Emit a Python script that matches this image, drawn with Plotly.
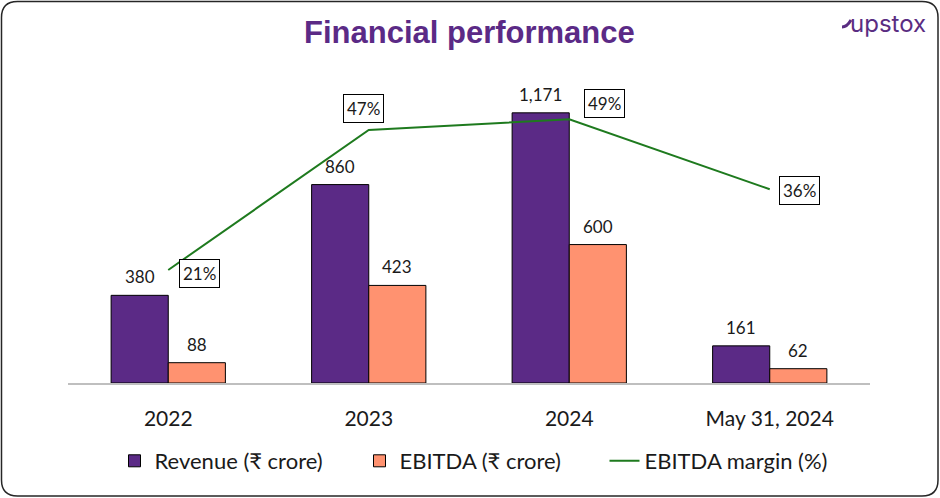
import plotly.graph_objects as go

categories = ["2022", "2023", "2024", "May 31, 2024"]
revenue = [380, 860, 1171, 161]
ebitda = [88, 423, 600, 62]
margin = [21, 47, 49, 36]

# label offsets (pixels) for margin boxes
margin_offsets = [(31, -4), (-5, 21), (35, 16), (30, -1)]

PURPLE = "#5B2A86"
SALMON = "#FF9270"
GREEN = "#1E7A1E"
TXT = "#1a1a1a"
FONT = "Lato, 'Noto Sans', sans-serif"

W, H = 940, 498
L, R, T, B = 68, 70, 60, 115
PW, PH = W - L - R, H - T - B


def px(xp):
    return (xp - L) / PW


def py(yp):
    return (T + PH - yp) / PH


fig = go.Figure()
fig.add_trace(go.Bar(x=categories, y=revenue, name="Revenue (₹ crore)",
                     marker=dict(color=PURPLE, line=dict(color="#000000", width=1)),
                     yaxis="y"))
fig.add_trace(go.Bar(x=categories, y=ebitda, name="EBITDA (₹ crore)",
                     marker=dict(color=SALMON, line=dict(color="#000000", width=1)),
                     yaxis="y"))
fig.add_trace(go.Scatter(x=categories, y=margin, name="EBITDA margin (%)", mode="lines",
                         line=dict(color=GREEN, width=2), yaxis="y2"))

annotations = []
half = PW / len(categories) * (1 - 0.43) / 2 / 2
for i, c in enumerate(categories):
    annotations.append(dict(x=i, y=revenue[i], xref="x", yref="y", text=f"{revenue[i]:,}",
                            showarrow=False, xshift=-half, yshift=6, yanchor="bottom", xanchor="center",
                            font=dict(size=17, color=TXT, family=FONT)))
    annotations.append(dict(x=i, y=ebitda[i], xref="x", yref="y", text=f"{ebitda[i]:,}",
                            showarrow=False, xshift=half, yshift=6, yanchor="bottom", xanchor="center",
                            font=dict(size=17, color=TXT, family=FONT)))
    dx, dy = margin_offsets[i]
    annotations.append(dict(x=i, y=margin[i], xref="x", yref="y2", text=f"{margin[i]}%",
                            showarrow=False, xshift=dx, yshift=dy, xanchor="center", yanchor="middle",
                            bordercolor="#000000", borderwidth=1, borderpad=3, bgcolor="white",
                            font=dict(size=17, color=TXT, family=FONT)))

annotations.append(dict(x=px(469), y=py(33), xref="paper", yref="paper",
                        xanchor="center", yanchor="middle",
                        text="<b>Financial performance</b>", showarrow=False,
                        font=dict(size=31, color=PURPLE, family="'Liberation Sans', Arial, sans-serif")))
annotations.append(dict(x=px(928), y=py(23), xref="paper", yref="paper", xanchor="right", yanchor="middle",
                        text="upstox", showarrow=False,
                        font=dict(size=24, color="#5A2D82", family="Inter, 'Noto Sans', sans-serif")))


def rrect(x0, y0, x1, y1, r):
    pts = [
        ("M", px(x0 + r), py(y0)),
        ("L", px(x1 - r), py(y0)),
        ("Q", px(x1), py(y0), px(x1), py(y0 + r)),
        ("L", px(x1), py(y1 - r)),
        ("Q", px(x1), py(y1), px(x1 - r), py(y1)),
        ("L", px(x0 + r), py(y1)),
        ("Q", px(x0), py(y1), px(x0), py(y1 - r)),
        ("L", px(x0), py(y0 + r)),
        ("Q", px(x0), py(y0), px(x0 + r), py(y0)),
    ]
    s = ""
    for p in pts:
        cmd = p[0]
        coords = p[1:]
        s += cmd + " " + " ".join(f"{coords[k]:.5f},{coords[k+1]:.5f}" for k in range(0, len(coords), 2)) + " "
    return s + "Z"


shapes = [
    dict(type="path", xref="paper", yref="paper", path=rrect(1.5, 1.5, 938, 496, 16),
         line=dict(color="#262626", width=1.5)),
    dict(type="path", xref="paper", yref="paper",
         path=f"M {px(842):.5f},{py(27):.5f} Q {px(847):.5f},{py(27):.5f} {px(851):.5f},{py(20):.5f}",
         line=dict(color="#5A2D82", width=3)),
]

fig.update_layout(
    width=W, height=H,
    margin=dict(l=L, r=R, t=T, b=B),
    paper_bgcolor="white", plot_bgcolor="white",
    barmode="group", bargap=0.43, bargroupgap=0,
    showlegend=True,
    legend=dict(orientation="h", x=px(482), xanchor="center", y=py(461), yanchor="middle",
                font=dict(size=22, color=TXT, family=FONT), itemwidth=30,
                entrywidth=200, entrywidthmode="pixels",
                traceorder="normal"),
    xaxis=dict(type="category", range=[-0.5, len(categories) - 0.5], showline=True,
               linecolor="#bfbfbf", linewidth=1.5, showgrid=False,
               ticks="", ticklabelstandoff=16,
               tickfont=dict(size=21, color=TXT, family=FONT)),
    yaxis=dict(range=[0, 1400], visible=False, showgrid=False, zeroline=False),
    yaxis2=dict(range=[0, 60], visible=False, overlaying="y", side="right",
                showgrid=False, zeroline=False),
    annotations=annotations,
    shapes=shapes,
)

fig.write_html("out.html", post_script="document.body.style.margin='0';",
               config={"displayModeBar": False})
